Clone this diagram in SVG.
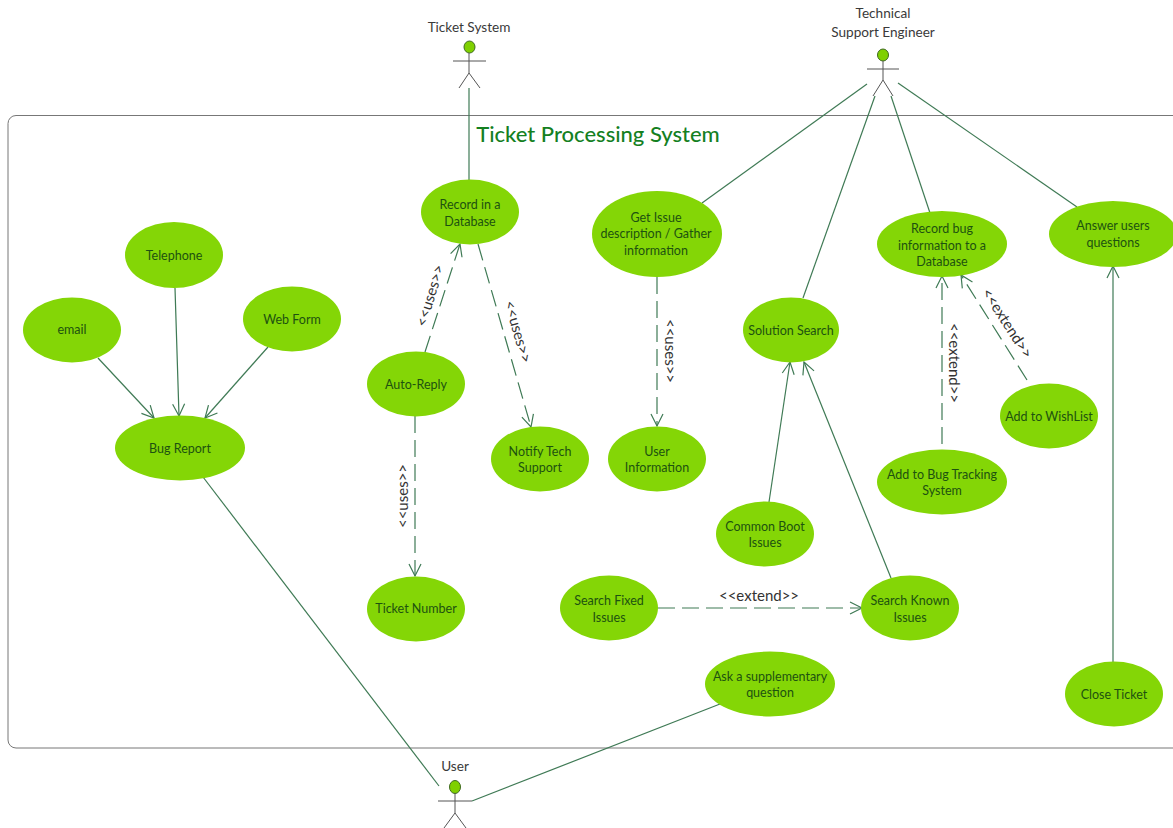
<svg xmlns="http://www.w3.org/2000/svg" width="1173" height="828" viewBox="0 0 1173 828">
<style>
text{font-family:Lato,"Liberation Sans",sans-serif;text-anchor:middle}
.n ellipse{fill:#84d606}
.n text{font-size:12.500px;fill:#1d5210}
.a text{font-size:13.600px;fill:#3a3a3a}
.a ellipse{fill:#7fd000;stroke:#3f6a20;stroke-width:1}
.a path{fill:none;stroke:#555;stroke-width:1}
.c path{fill:none;stroke:#3f7a55;stroke-width:1.2}
.c .d{stroke-dasharray:17 7}
.l text{font-size:15px;fill:#333}
</style>
<defs>
<marker id="o" markerUnits="userSpaceOnUse" markerWidth="18" markerHeight="18" refX="13" refY="7" orient="auto"><path d="M1 1L13 7L1 13" fill="none" stroke="#3f7a55" stroke-width="1.2"/></marker>
</defs>
<rect width="1173" height="828" fill="#fff"/>
<path id="boundary" d="M1173 115.500H16a8 8 0 0 0-8 8V740a8 8 0 0 0 8 8H1173" fill="none" stroke="#777" stroke-width="1"/>
<text x="598" y="142" style="font-size:22px;fill:#14801f;font-weight:500">Ticket Processing System</text>
<g id="connectors" class="c">
<path d="M469 88V181"/>
<path d="M867 84L702 203"/>
<path d="M875 96L803 298"/>
<path d="M891 96L930 213"/>
<path d="M898 83L1077 207"/>
<path d="M98 358L154 418" marker-end="url(#o)"/>
<path d="M175 288L179 416" marker-end="url(#o)"/>
<path d="M268 347L205 418" marker-end="url(#o)"/>
<path d="M203 477L439 786"/>
<path d="M472 801L720 704"/>
<path d="M769 502L790 362" marker-end="url(#o)"/>
<path d="M891 578L804 362" marker-end="url(#o)"/>
<path d="M1113 662V266" marker-end="url(#o)"/>
<path class="d" d="M425 352L460 244" marker-end="url(#o)"/>
<path class="d" d="M478 244L531 427" marker-end="url(#o)"/>
<path class="d" d="M657 277V426" marker-end="url(#o)"/>
<path class="d" d="M415 416V576" marker-end="url(#o)"/>
<path class="d" d="M942 444V276" marker-end="url(#o)"/>
<path class="d" d="M1027 380L961 275" marker-end="url(#o)"/>
<path class="d" d="M658 608H862" marker-end="url(#o)"/>
</g>
<g id="connector-labels" class="l">
<text transform="translate(435 297) rotate(-73)">&lt;&lt;uses&gt;&gt;</text>
<text transform="translate(513 333) rotate(74)">&lt;&lt;uses&gt;&gt;</text>
<text transform="translate(665 351) rotate(90)">&lt;&lt;uses&gt;&gt;</text>
<text transform="translate(408 496) rotate(-90)">&lt;&lt;uses&gt;&gt;</text>
<text transform="translate(949 363) rotate(90)">&lt;&lt;extend&gt;&gt;</text>
<text transform="translate(1003 326) rotate(57)">&lt;&lt;extend&gt;&gt;</text>
<text x="759" y="601">&lt;&lt;extend&gt;&gt;</text>
</g>
<g id="a-ticket" class="a"><text x="469" y="32">Ticket System</text><ellipse cx="469.500" cy="47" rx="5.500" ry="6"/><path d="M469 53V73M453 61H486M469 73L459 88M469 73L480 88"/></g>
<g id="a-tech" class="a"><text x="883" y="18">Technical</text><text x="883" y="37">Support Engineer</text><ellipse cx="883" cy="55" rx="5.500" ry="6"/><path d="M883 61V80M867 69H899M883 80L873 96M883 80L893 96"/></g>
<g id="a-user" class="a"><text x="455" y="771">User</text><ellipse cx="455" cy="787" rx="5.500" ry="6.500"/><path d="M455 793V813M438 801H472M455 813L444 828M455 813L466 828"/></g>
<g id="n1" class="n"><ellipse cx="470" cy="212" rx="49" ry="32.500"/><text x="470" y="209">Record in a</text><text x="470" y="226">Database</text></g>
<g id="n2" class="n"><ellipse cx="657" cy="234" rx="65" ry="43"/><text x="656" y="222">Get Issue</text><text x="656" y="238">description / Gather</text><text x="656" y="255">information</text></g>
<g id="n3" class="n"><ellipse cx="942" cy="244" rx="65" ry="33"/><text x="942" y="233">Record bug</text><text x="942" y="250">information to a</text><text x="942" y="266">Database</text></g>
<g id="n4" class="n"><ellipse cx="1113" cy="234" rx="64" ry="33"/><text x="1113" y="230">Answer users</text><text x="1113" y="247">questions</text></g>
<g id="n5" class="n"><ellipse cx="174" cy="255" rx="49" ry="33"/><text x="174" y="260">Telephone</text></g>
<g id="n6" class="n"><ellipse cx="72" cy="330" rx="49" ry="32.500"/><text x="72" y="334">email</text></g>
<g id="n7" class="n"><ellipse cx="292" cy="319" rx="49" ry="32.500"/><text x="292" y="324">Web Form</text></g>
<g id="n8" class="n"><ellipse cx="180" cy="448" rx="65" ry="32.500"/><text x="180" y="453">Bug Report</text></g>
<g id="n9" class="n"><ellipse cx="416" cy="384" rx="49" ry="32.500"/><text x="416" y="389">Auto-Reply</text></g>
<g id="n10" class="n"><ellipse cx="540" cy="459" rx="49" ry="32.500"/><text x="540" y="456">Notify Tech</text><text x="540" y="472">Support</text></g>
<g id="n11" class="n"><ellipse cx="657" cy="459" rx="49" ry="32.500"/><text x="657" y="456">User</text><text x="657" y="472">Information</text></g>
<g id="n12" class="n"><ellipse cx="791" cy="330" rx="48" ry="32.500"/><text x="791" y="335">Solution Search</text></g>
<g id="n13" class="n"><ellipse cx="1049" cy="416" rx="49" ry="32.500"/><text x="1049" y="421">Add to WishList</text></g>
<g id="n14" class="n"><ellipse cx="942" cy="482" rx="65" ry="32.500"/><text x="942" y="479">Add to Bug Tracking</text><text x="942" y="495">System</text></g>
<g id="n15" class="n"><ellipse cx="765" cy="534" rx="49" ry="32.500"/><text x="765" y="531">Common Boot</text><text x="765" y="547">Issues</text></g>
<g id="n16" class="n"><ellipse cx="416" cy="609" rx="49" ry="32.500"/><text x="416" y="613">Ticket Number</text></g>
<g id="n17" class="n"><ellipse cx="609" cy="608" rx="49" ry="32.500"/><text x="609" y="605">Search Fixed</text><text x="609" y="622">Issues</text></g>
<g id="n18" class="n"><ellipse cx="910" cy="608" rx="49" ry="32.500"/><text x="910" y="605">Search Known</text><text x="910" y="622">Issues</text></g>
<g id="n19" class="n"><ellipse cx="770" cy="684" rx="65" ry="32.500"/><text x="770" y="681">Ask a supplementary</text><text x="770" y="697">question</text></g>
<g id="n20" class="n"><ellipse cx="1114" cy="694" rx="49" ry="32.500"/><text x="1114" y="699">Close Ticket</text></g>
</svg>
